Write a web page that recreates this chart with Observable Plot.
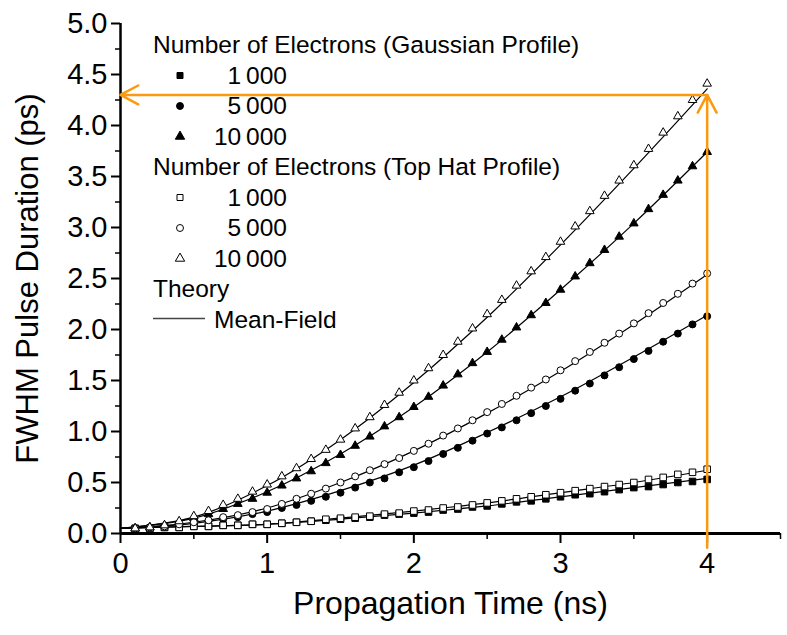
<!DOCTYPE html>
<html>
<head>
<meta charset="utf-8">
<script src="https://cdn.jsdelivr.net/npm/d3@7"></script>
<script src="https://cdn.jsdelivr.net/npm/@observablehq/plot@0.6"></script>
<style>
  body { margin: 0; background: #fff; }
  #chart svg { display: block; }
</style>
</head>
<body>
<div id="chart"></div>
<script>
// Simulation sample times (ns)
const timeNs = [0.1,0.2,0.3,0.4,0.5,0.6,0.7,0.8,0.9,1.0,
                1.1,1.2,1.3,1.4,1.5,1.6,1.7,1.8,1.9,2.0,
                2.1,2.2,2.3,2.4,2.5,2.6,2.7,2.8,2.9,3.0,
                3.1,3.2,3.3,3.4,3.5,3.6,3.7,3.8,3.9,4.0];

// FWHM pulse duration (ps), Gaussian initial profile
const gauss1000 = [0.05,0.05,0.06,0.06,0.07,0.07,0.08,0.08,0.09,0.09,
                   0.10,0.11,0.12,0.13,0.14,0.15,0.16,0.18,0.19,0.20,
                   0.21,0.23,0.24,0.26,0.27,0.29,0.31,0.32,0.34,0.36,
                   0.38,0.39,0.41,0.43,0.45,0.46,0.48,0.50,0.51,0.53];
const gauss5000 = [0.05,0.06,0.07,0.08,0.10,0.12,0.14,0.16,0.19,0.21,
                   0.25,0.28,0.32,0.36,0.40,0.45,0.50,0.54,0.60,0.65,
                   0.71,0.78,0.84,0.91,0.98,1.04,1.11,1.18,1.25,1.32,
                   1.40,1.47,1.55,1.63,1.71,1.79,1.88,1.96,2.05,2.13];
const gauss10000 = [0.05,0.06,0.08,0.11,0.15,0.19,0.24,0.29,0.34,0.40,
                    0.47,0.54,0.61,0.69,0.77,0.86,0.95,1.05,1.14,1.24,
                    1.34,1.45,1.56,1.67,1.78,1.90,2.02,2.14,2.26,2.39,
                    2.52,2.65,2.78,2.91,3.04,3.18,3.32,3.46,3.60,3.74];

// FWHM pulse duration (ps), top hat initial profile
const hat1000 = [0.05,0.05,0.06,0.06,0.07,0.07,0.08,0.08,0.09,0.09,
                 0.10,0.11,0.12,0.14,0.15,0.16,0.17,0.19,0.20,0.22,
                 0.23,0.25,0.26,0.28,0.30,0.32,0.34,0.36,0.38,0.40,
                 0.42,0.44,0.46,0.48,0.50,0.53,0.55,0.58,0.60,0.63];
const hat5000 = [0.05,0.06,0.07,0.09,0.11,0.13,0.16,0.18,0.21,0.24,
                 0.29,0.34,0.39,0.44,0.50,0.56,0.62,0.68,0.74,0.81,
                 0.88,0.96,1.03,1.11,1.19,1.27,1.35,1.43,1.51,1.60,
                 1.69,1.78,1.87,1.96,2.06,2.16,2.26,2.35,2.45,2.55];
const hat10000 = [0.05,0.06,0.08,0.12,0.17,0.22,0.28,0.34,0.41,0.48,
                  0.56,0.64,0.73,0.82,0.92,1.03,1.14,1.26,1.38,1.50,
                  1.62,1.75,1.88,2.01,2.15,2.29,2.43,2.57,2.71,2.86,
                  3.01,3.16,3.31,3.46,3.61,3.77,3.93,4.09,4.25,4.41];

// Mean-field theory curves (ps)
const theoryT = [0,0.5,1,1.5,2,2.5,3,3.5,4];
const theoryGauss1000  = [0.05,0.07,0.09,0.14,0.20,0.27,0.36,0.45,0.54];
const theoryGauss5000  = [0.05,0.10,0.22,0.42,0.67,0.99,1.34,1.73,2.14];
const theoryGauss10000 = [0.05,0.15,0.41,0.78,1.24,1.78,2.39,3.04,3.74];
const theoryHat1000    = [0.05,0.07,0.09,0.15,0.22,0.30,0.40,0.50,0.62];
const theoryHat5000    = [0.05,0.11,0.25,0.50,0.81,1.18,1.59,2.05,2.54];
const theoryHat10000   = [0.05,0.16,0.47,0.92,1.48,2.12,2.83,3.58,4.36];

// Highlighted end point
const markT = [4];
const markValue = [4.3];

// Axis ticks
const xMajor = [0,1,2,3,4];
const xMinor = [0.5,1.5,2.5,3.5,4.5];
const yMajor = [0,0.5,1,1.5,2,2.5,3,3.5,4,4.5,5];
const yMinor = [0.25,0.75,1.25,1.75,2.25,2.75,3.25,3.75,4.25,4.75];

const orange = "#fb9a10";
const FONT = "'Liberation Sans', Arial, Helvetica, sans-serif";

const seriesDefs = [
  {key: "g1000",  values: gauss1000,  symbol: "square",   fill: "black"},
  {key: "g5000",  values: gauss5000,  symbol: "circle",   fill: "black"},
  {key: "g10000", values: gauss10000, symbol: "triangle", fill: "black"},
  {key: "h1000",  values: hat1000,    symbol: "square",   fill: "white"},
  {key: "h5000",  values: hat5000,    symbol: "circle",   fill: "white"},
  {key: "h10000", values: hat10000,   symbol: "triangle", fill: "white"}
];
const theoryDefs = [
  theoryGauss1000, theoryGauss5000, theoryGauss10000,
  theoryHat1000, theoryHat5000, theoryHat10000
];

const theoryRows = theoryDefs.flatMap((vals, k) =>
  vals.map((v, i) => ({curve: k, t: theoryT[i], v})));

const symbolRadius = {square: 3.7, circle: 3.5, triangle: 3.2};

const dotMarks = seriesDefs.map(s =>
  Plot.dot(s.values.map((v, i) => ({t: timeNs[i], v})), {
    x: "t", y: "v", symbol: () => s.symbol, r: symbolRadius[s.symbol],
    fill: s.fill, stroke: "black", strokeWidth: 1
  })
);

const arrowRows = [
  {x1: markT[0], y1: markValue[0], x2: 0, y2: markValue[0]},
  {x1: markT[0], y1: -0.14, x2: markT[0], y2: markValue[0]}
];

const chart = Plot.plot({
  width: 787,
  height: 635,
  marginLeft: 120,
  marginRight: 7,
  marginTop: 23,
  marginBottom: 102,
  style: {fontFamily: FONT, fontSize: "29px", color: "black", background: "white"},
  x: {domain: [0, 4.5], label: null},
  y: {domain: [0, 5], label: null},
  symbol: {type: "identity"},
  marks: [
    Plot.line(theoryRows, {x: "t", y: "v", z: "curve", curve: "catmull-rom",
                           stroke: "black", strokeWidth: 1.2}),
    ...dotMarks,
    Plot.ruleX([0], {stroke: "black", strokeWidth: 2.5}),
    Plot.ruleY([0], {stroke: "black", strokeWidth: 3}),
    Plot.axisX({ticks: xMajor, tickSize: 10, tickPadding: 9, strokeWidth: 2,
                tickFormat: d3.format("d"), fontSize: 29, label: null}),
    Plot.axisX({ticks: xMinor, tickSize: 6, strokeWidth: 1.5,
                tickFormat: () => "", label: null}),
    Plot.axisY({ticks: yMajor, tickSize: 9, tickPadding: 4, strokeWidth: 2,
                tickFormat: d3.format(".1f"), fontSize: 29, label: null}),
    Plot.axisY({ticks: yMinor, tickSize: 5, strokeWidth: 1.5,
                tickFormat: () => "", label: null}),
    Plot.text(["Propagation Time (ns)"], {frameAnchor: "bottom", textAnchor: "middle",
                                          lineAnchor: "middle", dy: 70, fontSize: 32}),
    Plot.text(["FWHM Pulse Duration (ps)"], {frameAnchor: "left", textAnchor: "middle",
                                             lineAnchor: "middle", rotate: -90, dx: -92, fontSize: 31}),
    Plot.arrow(arrowRows, {x1: "x1", y1: "y1", x2: "x2", y2: "y2",
                           stroke: orange, strokeWidth: 2.5,
                           headLength: 12, headAngle: 56, insetEnd: 0, insetStart: 0})
  ]
});

document.getElementById("chart").append(chart);

// Legend drawn inside the plot frame
const svg = d3.select(chart);
const legend = svg.append("g")
  .attr("font-family", FONT)
  .attr("font-size", 24.5)
  .attr("text-anchor", "start")
  .attr("fill", "black");

const legendRows = [
  {type: "header", text: "Number of Electrons (Gaussian Profile)"},
  {type: "item", symbol: d3.symbolSquare, fill: "black", text: "1\u2009000"},
  {type: "item", symbol: d3.symbolCircle, fill: "black", text: "5\u2009000"},
  {type: "item", symbol: d3.symbolTriangle, fill: "black", text: "10\u2009000"},
  {type: "header", text: "Number of Electrons (Top Hat Profile)"},
  {type: "item", symbol: d3.symbolSquare, fill: "white", text: "1\u2009000"},
  {type: "item", symbol: d3.symbolCircle, fill: "white", text: "5\u2009000"},
  {type: "item", symbol: d3.symbolTriangle, fill: "white", text: "10\u2009000"},
  {type: "header", text: "Theory"},
  {type: "line", text: "Mean-Field"}
];

legendRows.forEach((row, i) => {
  const base = 53 + 30.5 * i;
  if (row.type === "header") {
    legend.append("text").attr("x", 153).attr("y", base).text(row.text);
  } else if (row.type === "item") {
    const size = row.symbol === d3.symbolSquare ? 36 : 38;
    legend.append("path")
      .attr("d", d3.symbol(row.symbol, size)())
      .attr("transform", `translate(180,${base - 8})`)
      .attr("fill", row.fill)
      .attr("stroke", "black")
      .attr("stroke-width", 1);
    legend.append("text").attr("x", 287).attr("y", base)
      .attr("text-anchor", "end").text(row.text);
  } else {
    legend.append("line")
      .attr("x1", 153).attr("x2", 205)
      .attr("y1", base - 9).attr("y2", base - 9)
      .attr("stroke", "#444").attr("stroke-width", 1.5);
    legend.append("text").attr("x", 214).attr("y", base).text(row.text);
  }
});
</script>
</body>
</html>
